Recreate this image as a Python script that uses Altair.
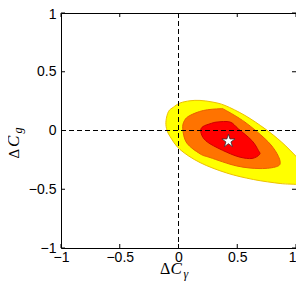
import altair as alt
import pandas as pd

# contour outlines (data units)
yellow_x = [-0.106, -0.085, -0.044, 0.013, 0.098, 0.183, 0.285, 0.396, 0.566, 0.737, 0.879, 1.007,
            1.06, 1.09, 1.07, 1.03, 1.007, 0.865, 0.637, 0.411, 0.183, 0.013, -0.072, -0.102]
yellow_y = [0.085, 0.162, 0.198, 0.234, 0.253, 0.256, 0.243, 0.213, 0.128, 0.014, -0.100, -0.227,
            -0.29, -0.37, -0.45, -0.48, -0.460, -0.451, -0.417, -0.362, -0.273, -0.162, -0.051, 0.017]
orange_x = [0.036, 0.051, 0.098, 0.211, 0.353, 0.396, 0.566, 0.737, 0.822, 0.865, 0.836, 0.694,
            0.496, 0.268, 0.183, 0.070]
orange_y = [0.014, 0.085, 0.128, 0.170, 0.185, 0.175, 0.071, -0.071, -0.170, -0.264, -0.307, -0.324,
            -0.302, -0.230, -0.198, -0.106]
red_x = [0.189, 0.209, 0.268, 0.328, 0.439, 0.509, 0.624, 0.680, 0.690, 0.626, 0.524, 0.411, 0.268, 0.209]
red_y = [0.000, 0.034, 0.057, 0.072, 0.072, 0.014, -0.085, -0.170, -0.204, -0.238, -0.227, -0.185,
         -0.113, -0.060]
best_x = [0.425]
best_y = [-0.09]
tick_values = [-1, -0.5, 0, 0.5, 1]

W = H = 235
xs = alt.Scale(domain=[-1, 1], nice=False, zero=False)
ys = alt.Scale(domain=[-1, 1], nice=False, zero=False)

axis_common = dict(values=tick_values, title=None, ticks=False, tickSize=0, domain=False, grid=False,
                   labelFlush=False, labelOverlap=False, format="~g", labelFont="Liberation Sans",
                   labelFontSize=14, labelColor="black")

def poly(xv, yv, fill, stroke):
    df = pd.DataFrame({"x": xv, "y": yv, "i": list(range(len(xv)))})
    return alt.Chart(df).mark_line(
        fill=fill, stroke=stroke, strokeWidth=1, clip=True, interpolate="cardinal-closed"
    ).encode(
        x=alt.X("x:Q", scale=xs, axis=alt.Axis(
            labelPadding=2,
            labelAlign=alt.condition("datum.value == 1", alt.value("right"), alt.value("center")),
            **axis_common)),
        y=alt.Y("y:Q", scale=ys, axis=alt.Axis(
            labelPadding=5,
            labelOffset=alt.condition("datum.value == 1", alt.value(1.5), alt.value(0)),
            **axis_common)),
        order="i:Q",
    )

yellow = poly(yellow_x, yellow_y, "#FFFF00", "#EDC000")
orange = poly(orange_x, orange_y, "#FF7300", "#E86000")
red = poly(red_x, red_y, "#FF0000", "#CC0000")

zero_df = pd.DataFrame({"v": [0]})
vline = alt.Chart(zero_df).mark_rule(color="black", strokeWidth=1, strokeDash=[5, 3]).encode(
    x=alt.X("v:Q", scale=xs), y=alt.value(0), y2=alt.value(H))
hline = alt.Chart(zero_df).mark_rule(color="black", strokeWidth=1, strokeDash=[5, 3]).encode(
    y=alt.Y("v:Q", scale=ys), x=alt.value(0), x2=alt.value(W))

star_path = "M0,-1L0.2245,-0.309L0.951,-0.309L0.363,0.118L0.588,0.809L0,0.382L-0.588,0.809L-0.363,0.118L-0.951,-0.309L-0.2245,-0.309Z"
star = alt.Chart(pd.DataFrame({"x": best_x, "y": best_y})).mark_point(
    shape=star_path, filled=True, fill="white", stroke="#333333", strokeWidth=0.8, size=190, opacity=1
).encode(x=alt.X("x:Q", scale=xs), y=alt.Y("y:Q", scale=ys))

tdf = pd.DataFrame({"t": tick_values})
tk = dict(color="black", strokeWidth=1)
tb = alt.Chart(tdf).mark_rule(**tk).encode(x=alt.X("t:Q", scale=xs), y=alt.value(H), y2=alt.value(H - 4))
tt = alt.Chart(tdf).mark_rule(**tk).encode(x=alt.X("t:Q", scale=xs), y=alt.value(0), y2=alt.value(4))
tl = alt.Chart(tdf).mark_rule(**tk).encode(y=alt.Y("t:Q", scale=ys), x=alt.value(0), x2=alt.value(4))
tr = alt.Chart(tdf).mark_rule(**tk).encode(y=alt.Y("t:Q", scale=ys), x=alt.value(W), x2=alt.value(W - 4))

one = pd.DataFrame({"a": [0]})
def txt(s, x, y, size, italic=False, angle=0):
    kw = dict(text=s, font="Liberation Serif", fontSize=size, color="black", align="left",
              baseline="alphabetic")
    if italic:
        kw["fontStyle"] = "italic"
    if angle:
        kw["angle"] = angle
    return alt.Chart(one).mark_text(**kw).encode(x=alt.value(x), y=alt.value(y))

titles = [
    txt("Δ", 99, 261, 16),
    txt("C", 109.5, 261, 17, italic=True),
    txt("γ", 122.5, 264.5, 12, italic=True),
    txt("Δ", -42, 145.6, 15, angle=270),
    txt("C", -42, 134, 17, italic=True, angle=270),
    txt("g", -39, 120.5, 12, italic=True, angle=270),
]

chart = alt.layer(yellow, orange, red, vline, hline, star, tb, tt, tl, tr, *titles).properties(
    width=W, height=H, autosize=alt.AutoSizeParams(type="none"),
    padding={"left": 53, "top": 5, "right": 0, "bottom": 35},
    background="white",
).configure_view(stroke="black", strokeWidth=1)

chart.save("out.html", embed_options={"renderer": "svg", "actions": False})
